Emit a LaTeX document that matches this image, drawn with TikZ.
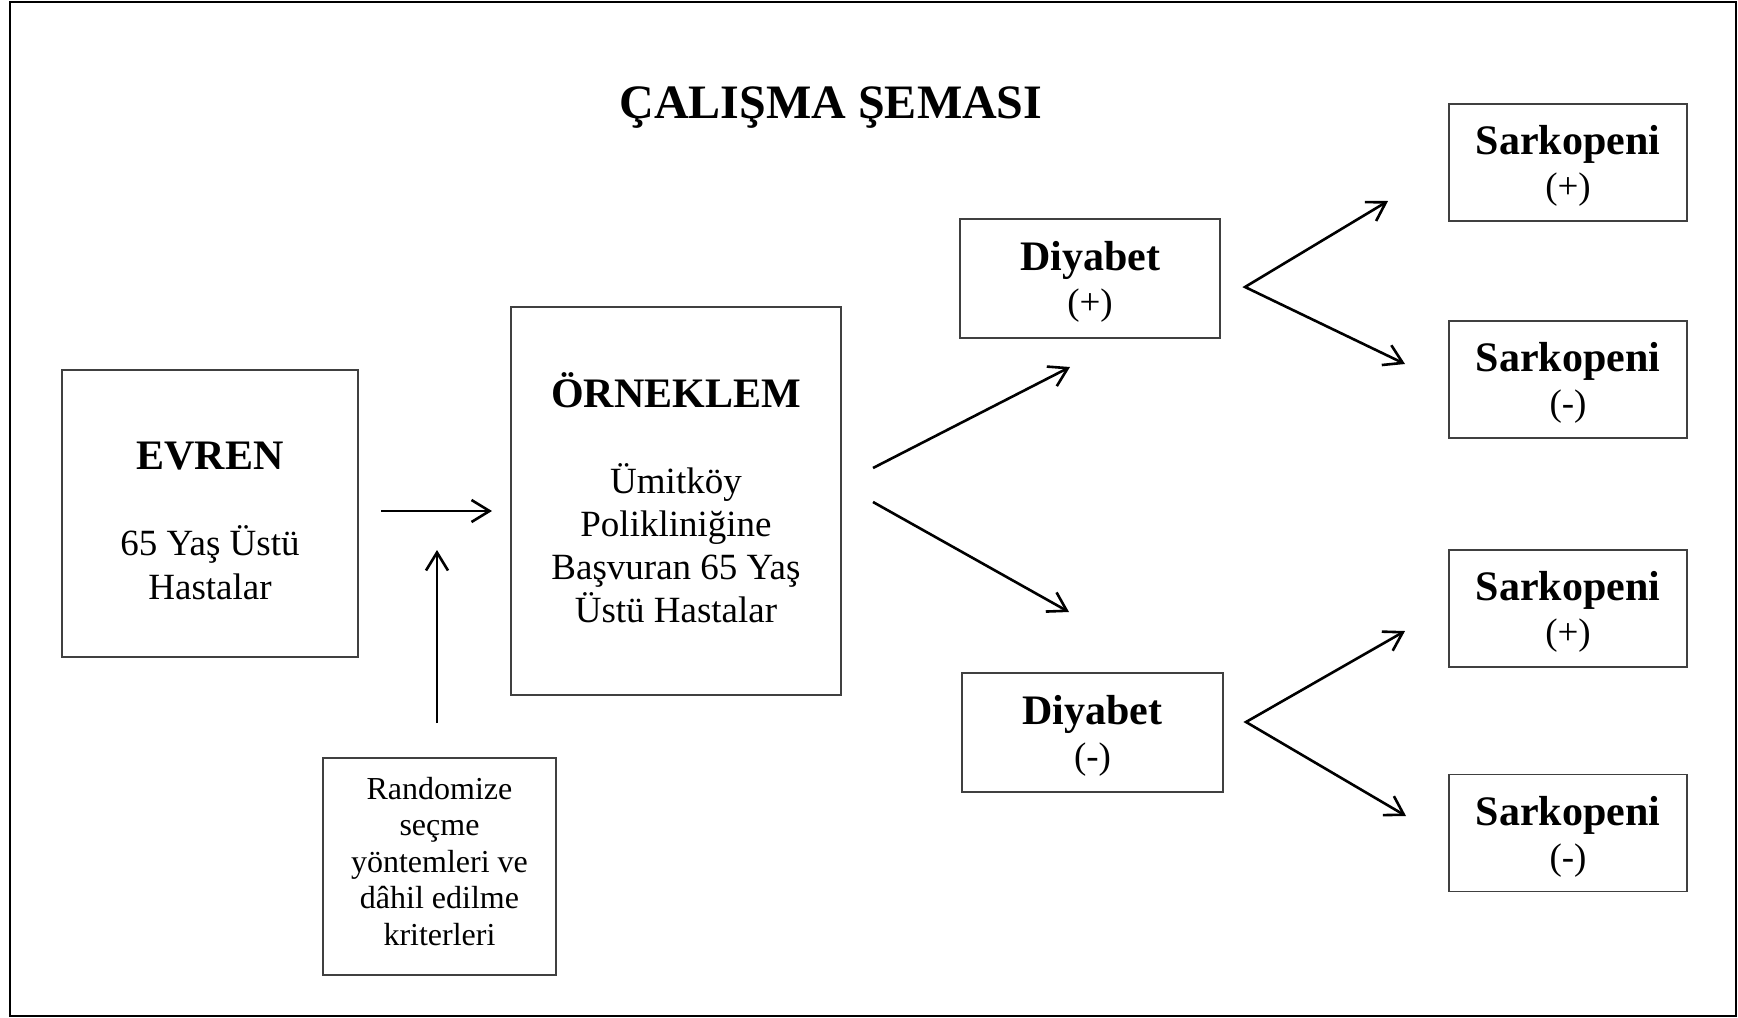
\documentclass[tikz,border=0pt]{standalone}
\usepackage{fontspec}
\setmainfont{Liberation Serif}
\usetikzlibrary{arrows.meta}

\tikzset{
  kutu/.style={draw=black!75, line width=0.75pt, inner sep=0pt, align=center,
    font=\fontsize{18.5}{22}\selectfont},
  kucuk/.style={font=\fontsize{16}{18.25}\selectfont},
  ok/.style={-{Straight Barb[length=9pt,width=11pt]}, line width=1.3pt},
  catal/.style={{Straight Barb[length=9pt,width=11pt]}-{Straight Barb[length=9pt,width=11pt]},
    line width=1.3pt, line join=miter},
}
\newcommand{\baslik}[1]{{\bfseries\fontsize{21}{22}\selectfont #1}}
% metni kutuda asagi / yukari itmek icin
\newcommand{\ustpay}[1]{\rule{0pt}{#1}}
\newcommand{\altpay}[1]{\rule[-#1]{0pt}{#1}}

\begin{document}
\begin{tikzpicture}[x=0.5pt,y=-0.5pt]
  \useasboundingbox (0,0) rectangle (1738,1017);
  \draw[line width=1pt] (10,2) rectangle (1736,1016);

  \node[anchor=base, font=\bfseries\fontsize{24}{28}\selectfont] (baslik) at (831,118) {ÇALIŞMA ŞEMASI};

  % sol taraf
  \node[kutu, minimum width=148pt, minimum height=143.5pt] (evren) at (210,513.5)
    {\ustpay{21pt}\baslik{EVREN}\\[21pt] 65 Yaş Üstü\\ Hastalar};
  \node[kutu, font=\fontsize{18.5}{21.5}\selectfont, minimum width=165pt, minimum height=194pt] (orneklem) at (676,501)
    {\baslik{ÖRNEKLEM}\\[21.5pt] Ümitköy\\ Polikliniğine\\ Başvuran 65 Yaş\\ Üstü Hastalar\altpay{3pt}};
  \node[kutu, kucuk, minimum width=116.5pt, minimum height=108.5pt] (secim) at (439.5,866.5)
    {Randomize\\ seçme\\ yöntemleri ve\\ dâhil edilme\\ kriterleri\altpay{5.6pt}};

  % diyabet
  \node[kutu, minimum width=130pt, minimum height=59.5pt] (dpos) at (1090,278.5) {\ustpay{18pt}\baslik{Diyabet}\\ (+)};
  \node[kutu, minimum width=130.5pt, minimum height=59.5pt] (dneg) at (1092.5,732.5) {\ustpay{18pt}\baslik{Diyabet}\\ (-)};

  % sarkopeni
  \node[kutu, minimum width=119pt, minimum height=58.5pt] (s1) at (1568,162.5) {\ustpay{18pt}\baslik{Sarkopeni}\\ (+)};
  \node[kutu, minimum width=119pt, minimum height=58.5pt] (s2) at (1568,379.5) {\ustpay{18pt}\baslik{Sarkopeni}\\ (-)};
  \node[kutu, minimum width=119pt, minimum height=58.5pt] (s3) at (1568,608.5) {\ustpay{18pt}\baslik{Sarkopeni}\\ (+)};
  \node[kutu, minimum width=119pt, minimum height=58.5pt] (s4) at (1568,833) {\ustpay{18pt}\baslik{Sarkopeni}\\ (-)};

  % ok uclari
  \coordinate (e1) at (381,511);
  \coordinate (e2) at (492,511);
  \coordinate (r1) at (437,723);
  \coordinate (r2) at (437,550);
  \coordinate (o1) at (873,468);
  \coordinate (o2) at (1070,367);
  \coordinate (o3) at (873,502);
  \coordinate (o4) at (1069,612);
  \coordinate (dp) at (1245,287);
  \coordinate (dp1) at (1388,201);
  \coordinate (dp2) at (1405,364);
  \coordinate (dn) at (1246,722);
  \coordinate (dn1) at (1405,631);
  \coordinate (dn2) at (1406,816);

  \draw[ok] (e1) -- (e2);
  \draw[ok] (r1) -- (r2);
  \draw[ok] (o1) -- (o2);
  \draw[ok] (o3) -- (o4);
  \draw[catal] (dp1) -- (dp) -- (dp2);
  \draw[catal] (dn1) -- (dn) -- (dn2);
\end{tikzpicture}
\end{document}
